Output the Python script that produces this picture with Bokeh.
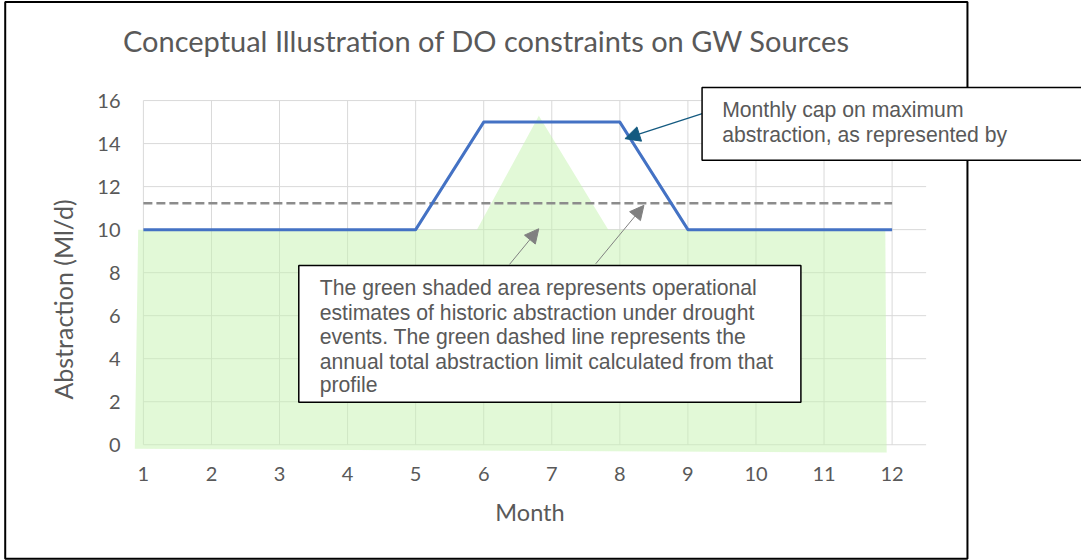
import math
from bokeh.plotting import figure
from bokeh.models import Range1d, FixedTicker, Label, Arrow, NormalHead, BoxAnnotation
from bokeh.core.properties import value
from bokeh.embed import file_html
from bokeh.resources import INLINE

# ---- data ----
months = [1, 2, 3, 4, 5, 6, 7, 8, 9, 10, 11, 12]
monthly_cap = [10, 10, 10, 10, 10, 15, 15, 15, 10, 10, 10, 10]
annual_limit = 11.23
yticks = [0, 2, 4, 6, 8, 10, 12, 14, 16]
historic_x = [0.874, 0.924, 5.90, 6.81, 7.83, 11.90, 11.92]
historic_y = [-0.19, 10.0, 10.0, 15.30, 10.0, 10.0, -0.36]

title_text = "Conceptual Illustration of DO constraints on GW Sources"
x_title = "Month"
y_title = "Abstraction (Ml/d)"
cap_note = ["Monthly cap on maximum", "abstraction, as represented by"]
green_note = [
    "The green shaded area represents operational",
    "estimates of historic abstraction under drought",
    "events. The green dashed line represents the",
    "annual total abstraction limit calculated from that",
    "profile",
]

GREY = "#595959"
GRID = "#d9d9d9"

p = figure(width=1081, height=560, x_range=Range1d(0.84, 12.52), y_range=Range1d(-0.5, 16.05),
           output_backend="svg", toolbar_location=None,
           min_border_left=132, min_border_right=154, min_border_top=99, min_border_bottom=105)
p.outline_line_color = None
p.xgrid.visible = False
p.ygrid.visible = False
p.background_fill_color = "white"
p.border_fill_color = "white"

# grid
p.segment(x0=[1] * len(yticks), x1=[12.5] * len(yticks), y0=yticks, y1=yticks,
          line_color=GRID, line_width=1)
p.segment(x0=months, x1=months, y0=[0] * len(months), y1=[16] * len(months),
          line_color=GRID, line_width=1)

# green historic area
p.patch(historic_x, historic_y, fill_color="#c6f3b0", fill_alpha=0.5, line_color=None)

# annual limit dashed line
p.line([months[0], months[-1]], [annual_limit, annual_limit], line_color="#8c8c8c",
       line_width=2.5, line_dash="9 4")

# monthly cap line
p.line(months, monthly_cap, line_color="#4472C4", line_width=3, line_join="round")

# axes
for ax in (p.xaxis[0], p.yaxis[0]):
    ax.axis_line_color = None
    ax.major_tick_line_color = None
    ax.minor_tick_line_color = None
    ax.major_tick_out = 0
    ax.major_tick_in = 0
    ax.major_label_text_font = "Lato"
    ax.major_label_text_font_size = "20px"
    ax.major_label_text_color = GREY
    ax.axis_label_text_font = "Lato"
    ax.axis_label_text_color = GREY
    ax.axis_label_text_font_style = "normal"
p.xaxis.ticker = FixedTicker(ticks=months)
p.yaxis.ticker = FixedTicker(ticks=yticks)
p.xaxis.axis_label = x_title
p.xaxis.axis_label_text_font_size = "23.5px"
p.xaxis.major_label_standoff = 11
p.yaxis.major_label_standoff = 12
p.xaxis.axis_label_standoff = 14

# box 2 (inside the plot frame)
p.add_layout(BoxAnnotation(left=3.283, right=10.66, top=8.336, bottom=1.98,
                           fill_color="white", fill_alpha=1, line_color="black",
                           line_width=1.5, line_alpha=1))
for txt, yy in zip(green_note, [7.296, 6.166, 5.051, 3.888, 2.80]):
    p.add_layout(Label(x=3.591, y=yy, text=txt, text_font="Liberation Sans",
                       text_font_size="21.2px", text_color=GREY, text_baseline="alphabetic"))

# arrows
p.add_layout(Arrow(end=NormalHead(size=15, fill_color="#145a80", line_color="#145a80"),
                   x_start=9.21, y_start=15.39, x_end=8.075, y_end=14.23,
                   line_color="#145a80", line_width=1.3))
p.add_layout(Arrow(end=NormalHead(size=14, fill_color="#808080", line_color="#808080"),
                   x_start=6.378, y_start=8.38, x_end=6.809, y_end=10.04,
                   line_color="#808080", line_width=1))
p.add_layout(Arrow(end=NormalHead(size=14, fill_color="#808080", line_color="#808080"),
                   x_start=7.645, y_start=8.41, x_end=8.354, y_end=11.13,
                   line_color="#808080", line_width=1))

# elements that reach outside the plot frame: overlay level glyphs
p.quad(left=[-1.03], right=[13.107], top=[20.58], bottom=[-5.3], fill_color=None,
       line_color="black", line_width=2, level="overlay")
p.text(x=[6.04], y=[18.77], text=[title_text], text_align="center",
       text_baseline="alphabetic", text_font=value("Lato"), text_font_size="29px",
       text_color=GREY, level="overlay")
p.text(x=[-0.188], y=[6.755], text=[y_title], angle=math.pi / 2, text_align="center",
       text_baseline="middle", text_font=value("Lato"), text_font_size="25px",
       text_color=GREY, level="overlay")
p.quad(left=[9.208], right=[15.3], top=[16.61], bottom=[13.22], fill_color="white",
       line_color="black", line_width=1.5, level="overlay")
p.text(x=[9.503, 9.503], y=[15.585, 14.405], text=cap_note, text_font=value("Liberation Sans"),
       text_font_size="21.2px", text_color=GREY, text_baseline="alphabetic", level="overlay")

open("out.html", "w").write(file_html(p, INLINE))
